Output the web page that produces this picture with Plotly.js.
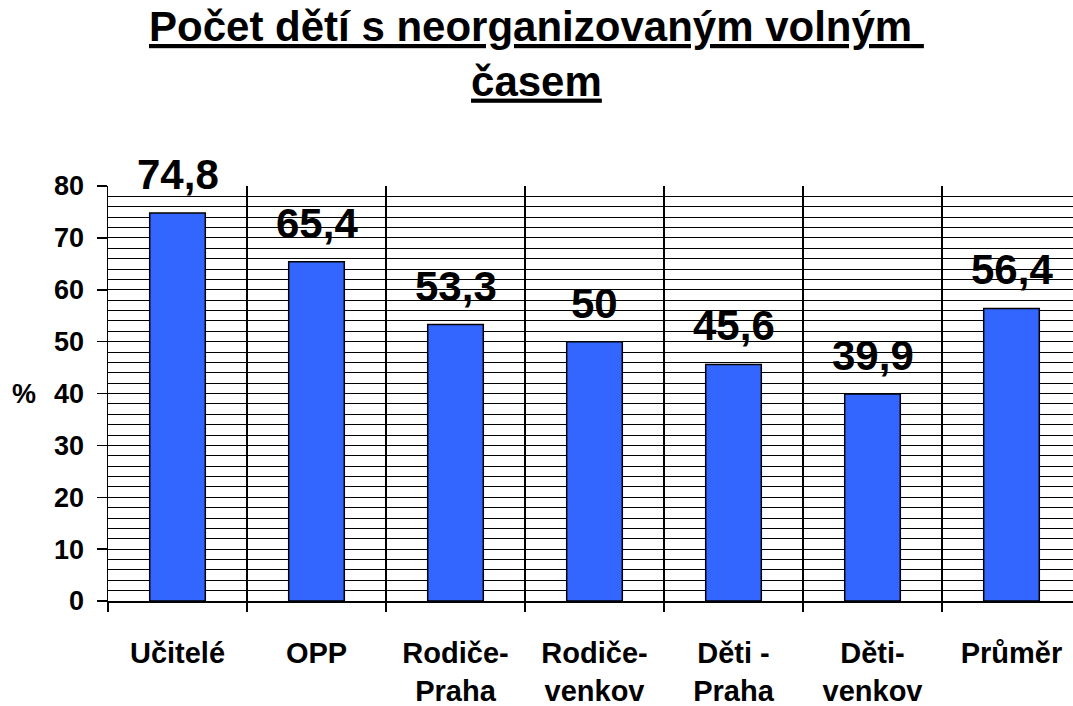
<!DOCTYPE html>
<html>
<head>
<meta charset="utf-8">
<script src="https://cdn.plot.ly/plotly-3.0.1.min.js"></script>
<style>
html, body { margin: 0; padding: 0; overflow: hidden; background: #fff; }
#chart { width: 1082px; height: 706px; }
</style>
</head>
<body>
<div id="chart"></div>
<script>
var categories = ["Učitelé", "OPP", "Rodiče-<br>Praha", "Rodiče-<br>venkov", "Děti -<br>Praha", "Děti-<br>venkov", "Průměr"];
var values = [74.8, 65.4, 53.3, 50, 45.6, 39.9, 56.4];
var yTickVals = [0, 10, 20, 30, 40, 50, 60, 70, 80];
var titleText = "Počet dětí s neorganizovaným volným";
var titleText2 = "časem";
var yTitle = "%";

var FONT = "Liberation Sans, Arial, sans-serif";

var trace = {
  type: "bar",
  x: categories,
  y: values,
  width: 0.4,
  marker: { color: "#3366FF", line: { color: "#000000", width: 1.5 } },
  hoverinfo: "x+y"
};

var annotations = categories.map(function (c, i) {
  return {
    x: c, y: values[i], xref: "x", yref: "y",
    text: "<b>" + String(values[i]).replace(".", ",") + "</b>",
    showarrow: false, yanchor: "bottom", xanchor: "center", yshift: 13,
    font: { family: FONT, size: 42, color: "#000" }
  };
});
annotations.push({
  x: 0, xref: "paper", xanchor: "right", xshift: -70,
  y: 40, yref: "y", yanchor: "middle",
  text: "<b>" + yTitle + "</b>", showarrow: false,
  font: { family: FONT, size: 27, color: "#000" }
});
annotations.push({
  x: 0.44, xref: "paper", xanchor: "center",
  y: 1.318, yref: "paper", yanchor: "middle",
  text: "<b><span style=\"text-decoration:underline\">" + titleText + "&nbsp;</span><br><span style=\"text-decoration:underline\">" + titleText2 + "</span></b>",
  showarrow: false,
  font: { family: FONT, size: 42, color: "#000" }
});

var layout = {
  width: 1082, height: 706,
  margin: { l: 108, r: 1, t: 186, b: 105 },
  paper_bgcolor: "#fff", plot_bgcolor: "#fff",
  showlegend: false,
  font: { family: FONT, color: "#000" },
  xaxis: {
    type: "category",
    tickson: "boundaries",
    ticks: "outside", ticklen: 9, tickwidth: 1.5, tickcolor: "#000",
    showgrid: true, gridcolor: "#000", gridwidth: 1.5,
    showline: true, linecolor: "#000", linewidth: 1.5,
    tickfont: { family: FONT, size: 29, color: "#000", weight: "bold" },
    ticklabelstandoff: 26,
    fixedrange: true
  },
  yaxis: {
    range: [0, 80],
    tickvals: yTickVals,
    ticks: "outside", ticklen: 10, tickwidth: 1.5, tickcolor: "#000",
    showgrid: true, gridcolor: "#000", gridwidth: 1,
    minor: { dtick: 2, showgrid: true, gridcolor: "#000", gridwidth: 1 },
    showline: true, linecolor: "#000", linewidth: 1.5,
    zeroline: false,
    tickfont: { family: FONT, size: 27, color: "#000", weight: "bold" },
    ticklabelstandoff: 7,
    fixedrange: true
  },
  annotations: annotations
};

Plotly.newPlot("chart", [trace], layout, { displayModeBar: false, staticPlot: true });
</script>
</body>
</html>
